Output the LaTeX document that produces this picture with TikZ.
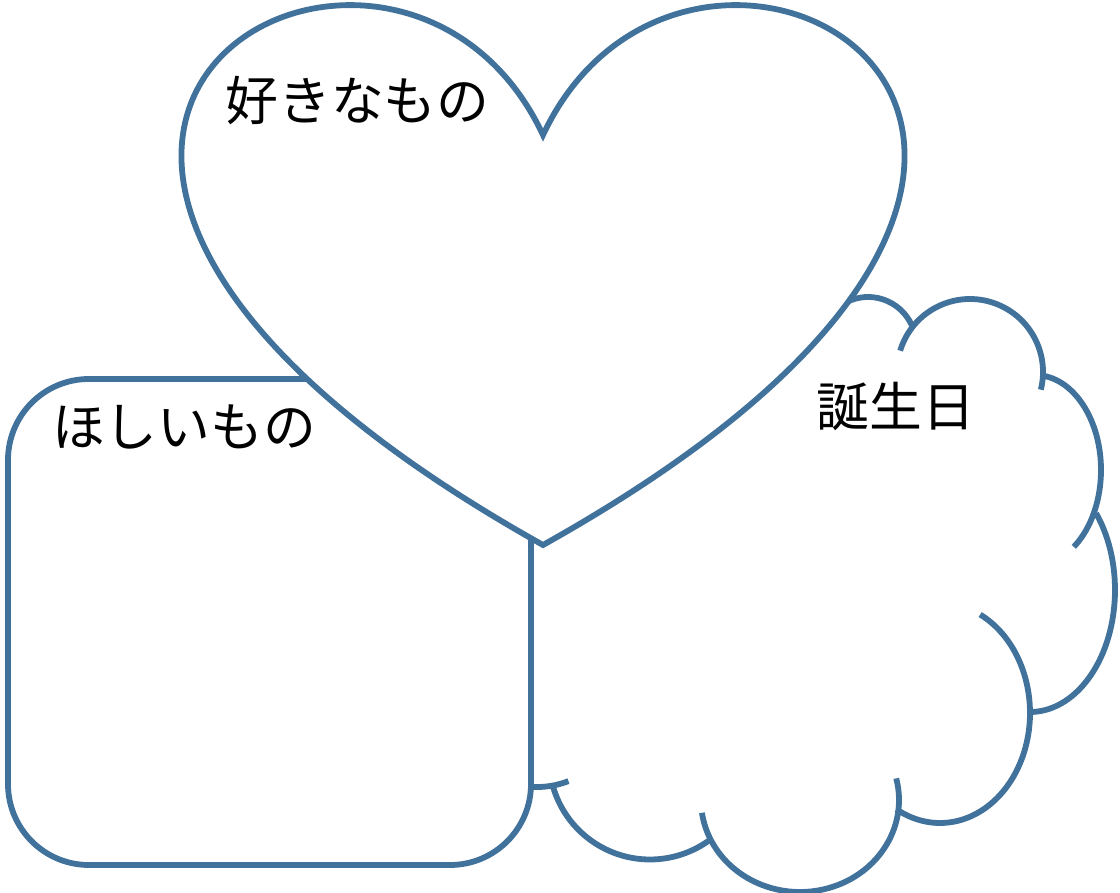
\documentclass[tikz,border=0pt]{standalone}
\usepackage{fontspec}
\newfontfamily\jp{Noto Sans CJK JP}
\definecolor{edge}{RGB}{65,114,156}
\begin{document}
\begin{tikzpicture}[x=0.5pt,y=-0.5pt,
  cl/.style={draw=edge,line width=2.9pt,line cap=butt},
  shp/.style={draw=edge,fill=white,line width=2.9pt,line join=miter},
  lbl/.style={inner sep=0pt,anchor=base,font=\jp\fontsize{26.4pt}{31pt}\selectfont}]
\useasboundingbox (0,0) rectangle (1120,893);
% cloud lobes
\draw[cl] (868,345) ++(-150:48) arc[start angle=-150,end angle=-20.7,radius=48];
\draw[cl] (970,372) ++(-163:73) arc[start angle=-163,end angle=14,radius=73];
\draw[cl] (1035,470) ++(-83:66 and 95) arc[start angle=-83,end angle=54,x radius=66,y radius=95];
\draw[cl] (1030,590) ++(-39:85 and 122) arc[start angle=-39,end angle=90,x radius=85,y radius=122];
\draw[cl] (940,713) ++(-63.5:90 and 110) arc[start angle=-63.5,end angle=119,x radius=90,y radius=110];
\draw[cl] (800,800) ++(-13.6:99 and 92) arc[start angle=-13.6,end angle=172,x radius=99,y radius=92];
\draw[cl] (650,758.5) ++(52.7:101) arc[start angle=52.7,end angle=164.9,radius=101];
\draw[cl] (537,700) ++(68.8:87) arc[start angle=68.8,end angle=140,radius=87];
% rounded rectangle
\draw[shp,rounded corners=40.5pt] (8,379) rectangle (531,865);
% heart
\draw[shp] (543,135) .. controls (692.6,-183.9) and (1275.8,135) .. (543,545)
  .. controls (-189.8,135) and (393.4,-183.9) .. cycle;
% labels
\node[lbl] (like) at (357.5,120.5) {好きなもの};
\node[lbl] (want) at (184,446.5) {ほしいもの};
\node[lbl] (bday) at (896,426.5) {誕生日};
\end{tikzpicture}
\end{document}
